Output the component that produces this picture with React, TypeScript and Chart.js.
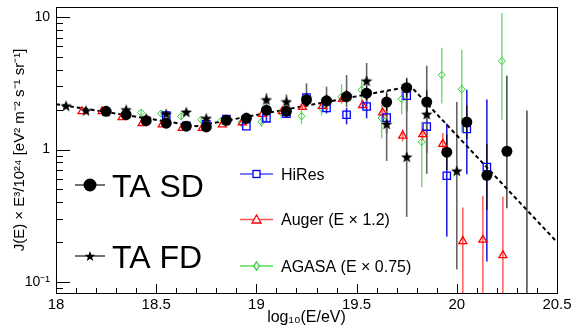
import React, { useEffect, useRef } from 'react';
import { Chart, registerables } from 'chart.js';

Chart.register(...registerables);

// ---------- data ----------
const sdX = [18.25, 18.35, 18.45, 18.55, 18.65, 18.75, 18.85, 18.95, 19.05, 19.15, 19.25, 19.35, 19.45, 19.55, 19.65, 19.75, 19.85, 19.95, 20.05, 20.15, 20.25, 20.35];
const sdY = [1.94, 1.83, 1.65, 1.58, 1.5, 1.48, 1.66, 1.72, 1.98, 1.94, 2.37, 2.33, 2.51, 2.66, 2.28, 2.93, 2.28, 0.955, 1.61, 0.638, 0.97, null];
const sdLo = [null, null, null, null, null, null, null, null, null, null, 2.2, 2.1, 2.25, 2.35, 1.95, 2.5, 1.85, 0.7, 1.2, 0.35, 0.36, 0.01];
const sdHi = [null, null, null, null, null, null, null, null, null, null, 2.6, 2.6, 2.8, 3.0, 2.65, 3.4, 2.8, 1.3, 2.15, 1.1, 3.6, 1.97];

const fdX = [18.05, 18.15, 18.25, 18.35, 18.45, 18.55, 18.65, 18.75, 18.85, 18.95, 19.05, 19.15, 19.25, 19.35, 19.45, 19.55, 19.65, 19.75, 19.85, 20.0];
const fdY = [2.14, 1.97, 1.95, 2.0, 1.72, 1.86, 1.92, 1.72, 1.68, 1.75, 2.38, 2.3, 2.45, 2.35, 2.55, 3.3, 1.56, 0.88, 1.85, 0.69];
const fdLo = [null, null, null, null, null, null, null, null, null, null, 2.1, 2.05, 2.1, 2.0, 2.1, 2.3, 0.82, 0.31, 0.656, 0.124];
const fdHi = [null, null, null, null, null, null, null, null, null, null, 2.66, 2.6, 3.16, 2.98, 3.65, 4.5, 2.77, 3.49, 4.29, 2.28];

const hiresX = [18.55, 18.65, 18.75, 18.85, 18.95, 19.05, 19.15, 19.25, 19.35, 19.45, 19.55, 19.65, 19.75, 19.85, 19.95, 20.05, 20.15];
const hiresY = [1.8, 1.51, 1.55, 1.7, 1.5, 1.72, 1.86, 2.47, 2.06, 1.83, 2.11, 1.74, 2.55, 1.49, 0.634, 1.43, 0.737];
const hiresLo = [null, null, null, null, null, 1.62, 1.76, 2.3, 1.87, 1.55, 1.72, 1.32, 1.94, 0.94, 0.22, 0.65, 0.143];
const hiresHi = [null, null, null, null, null, 1.82, 1.97, 2.65, 2.25, 2.07, 2.55, 2.3, 3.15, 2.3, 1.57, 2.83, 2.38];

const augerX = [18.13, 18.23, 18.33, 18.43, 18.53, 18.63, 18.73, 18.83, 18.93, 19.03, 19.13, 19.23, 19.33, 19.43, 19.53, 19.63, 19.73, 19.83, 19.93, 20.03, 20.13, 20.23];
const augerY = [1.94, 1.94, 1.75, 1.58, 1.54, 1.45, 1.45, 1.54, 1.6, 1.85, 1.94, 2.09, 2.13, 2.4, 2.16, 1.9, 1.27, 1.3, 1.1, 0.203, 0.208, 0.159];
const augerLo = [null, null, null, null, null, null, null, null, null, null, null, 2.0, 2.03, 2.28, 2.04, 1.75, 1.15, 1.17, 0.92, 0.01, 0.01, 0.01];
const augerHi = [null, null, null, null, null, null, null, null, null, null, null, 2.19, 2.24, 2.53, 2.29, 2.05, 1.42, 1.45, 1.33, 0.365, 0.447, 0.44];

const agasaX = [18.425, 18.525, 18.625, 18.725, 18.825, 18.925, 19.025, 19.125, 19.225, 19.325, 19.425, 19.525, 19.625, 19.725, 19.825, 19.925, 20.025, 20.225];
const agasaY = [1.9, 1.87, 1.78, 1.68, 1.65, 1.6, 1.62, 1.9, 1.78, 2.05, 2.5, 2.82, 1.73, 2.41, 1.14, 3.65, 2.85, 4.65];
const agasaLo = [1.8, 1.77, 1.68, 1.58, 1.54, 1.48, 1.48, 1.72, 1.55, 1.8, 2.2, 2.3, 1.21, 1.84, 0.52, 2.22, 1.35, 1.68];
const agasaHi = [2.0, 1.97, 1.88, 1.78, 1.76, 1.72, 1.76, 2.1, 2.0, 2.3, 3.1, 3.37, 2.18, 3.14, 1.63, 5.85, 5.65, 10.7];

const fitX = [18.0, 18.7, 19.77, 20.5];
const fitY = [2.2, 1.5, 3.0, 0.2];

const xTickLabels = ['18', '18.5', '19', '19.5', '20', '20.5'];
const yTickLabels: Record<string, string> = { '0.1': '10\u207B\u00B9', '1': '1', '10': '10' };

const FONT = '"Liberation Sans", Arial, Helvetica, sans-serif';

// ---------- markers ----------
function makeStar(size: number): HTMLCanvasElement {
  const c = document.createElement('canvas');
  c.width = size;
  c.height = size;
  const ctx = c.getContext('2d')!;
  drawStar(ctx, size / 2, size / 2 + size * 0.05, size / 2);
  return c;
}

function drawStar(ctx: CanvasRenderingContext2D, cx: number, cy: number, R: number) {
  const r = R * 0.42;
  ctx.beginPath();
  for (let i = 0; i < 10; i++) {
    const a = -Math.PI / 2 + (i * Math.PI) / 5;
    const rr = i % 2 === 0 ? R : r;
    ctx.lineTo(cx + rr * Math.cos(a), cy + rr * Math.sin(a));
  }
  ctx.closePath();
  ctx.fillStyle = '#000';
  ctx.fill();
}

function drawLegendMarker(ctx: CanvasRenderingContext2D, kind: string, x: number, y: number) {
  ctx.save();
  ctx.lineWidth = 1.3;
  if (kind === 'circle') {
    ctx.beginPath();
    ctx.arc(x, y, 6.5, 0, Math.PI * 2);
    ctx.fillStyle = '#000';
    ctx.fill();
  } else if (kind === 'star') {
    drawStar(ctx, x, y + 0.5, 5.5);
  } else if (kind === 'square') {
    ctx.fillStyle = '#fff';
    ctx.strokeStyle = '#0000ff';
    ctx.fillRect(x - 3.5, y - 3.5, 7, 7);
    ctx.strokeRect(x - 3.5, y - 3.5, 7, 7);
  } else if (kind === 'triangle') {
    ctx.fillStyle = '#fff';
    ctx.strokeStyle = '#ff0000';
    ctx.beginPath();
    ctx.moveTo(x, y - 4.5);
    ctx.lineTo(x + 4.5, y + 3.5);
    ctx.lineTo(x - 4.5, y + 3.5);
    ctx.closePath();
    ctx.fill();
    ctx.stroke();
  } else if (kind === 'diamond') {
    ctx.fillStyle = '#fff';
    ctx.strokeStyle = '#33cc33';
    ctx.beginPath();
    ctx.moveTo(x, y - 4);
    ctx.lineTo(x + 2.8, y);
    ctx.lineTo(x, y + 4);
    ctx.lineTo(x - 2.8, y);
    ctx.closePath();
    ctx.fill();
    ctx.stroke();
  }
  ctx.restore();
}

// ---------- plugins ----------
const errorBarPlugin = {
  id: 'errorBars',
  beforeDatasetsDraw(chart: any) {
    const { ctx, chartArea, scales } = chart;
    ctx.save();
    ctx.beginPath();
    ctx.rect(chartArea.left, chartArea.top, chartArea.right - chartArea.left, chartArea.bottom - chartArea.top);
    ctx.clip();
    chart.data.datasets.forEach((ds: any) => {
      if (!ds.errLo) return;
      ctx.strokeStyle = ds.errColor;
      ctx.lineWidth = ds.errWidth;
      ds.data.forEach((p: any, i: number) => {
        const lo = ds.errLo[i];
        const hi = ds.errHi[i];
        if (lo == null || hi == null) return;
        const x = scales.x.getPixelForValue(p.x);
        const y1 = scales.y.getPixelForValue(lo);
        const y2 = scales.y.getPixelForValue(hi);
        ctx.beginPath();
        ctx.moveTo(x, y1);
        ctx.lineTo(x, y2);
        ctx.stroke();
      });
    });
    ctx.restore();
  },
};

const framePlugin = {
  id: 'frameTicks',
  afterDraw(chart: any) {
    const { ctx, chartArea, scales } = chart;
    const { left, right, top, bottom } = chartArea;
    ctx.save();
    ctx.strokeStyle = '#000';
    ctx.lineWidth = 1;
    ctx.strokeRect(Math.round(left) + 0.5, Math.round(top) + 0.5, Math.round(right - left), Math.round(bottom - top));
    const yMin = scales.y.min;
    const yMax = scales.y.max;
    for (let d = -2; d <= 1; d++) {
      for (let m = 1; m <= 9; m++) {
        const v = m * Math.pow(10, d);
        if (v < yMin || v > yMax) continue;
        const y = Math.round(scales.y.getPixelForValue(v)) + 0.5;
        const len = m === 1 ? 14 : 7;
        ctx.beginPath();
        ctx.moveTo(left, y);
        ctx.lineTo(left + len, y);
        ctx.stroke();
      }
    }
    for (let k = 0; k <= 25; k++) {
      const v = 18 + k * 0.1;
      const x = Math.round(scales.x.getPixelForValue(v)) + 0.5;
      const len = k % 5 === 0 ? 9 : 5;
      ctx.beginPath();
      ctx.moveTo(x, bottom);
      ctx.lineTo(x, bottom - len);
      ctx.stroke();
    }
    ctx.restore();
  },
};

const legendPlugin = {
  id: 'customLegend',
  afterDraw(chart: any) {
    const ctx: CanvasRenderingContext2D = chart.ctx;
    ctx.save();
    const big = [
      { label: 'TA SD', kind: 'circle', y: 185, base: 197 },
      { label: 'TA FD', kind: 'star', y: 256, base: 268 },
    ];
    big.forEach((b) => {
      ctx.strokeStyle = '#444';
      ctx.lineWidth = 1.5;
      ctx.beginPath();
      ctx.moveTo(75, b.y);
      ctx.lineTo(105, b.y);
      ctx.stroke();
      drawLegendMarker(ctx, b.kind, 90, b.y);
      ctx.fillStyle = '#000';
      ctx.font = `32px ${FONT}`;
      ctx.textBaseline = 'alphabetic';
      ctx.textAlign = 'left';
      ctx.fillText(b.label, 112, b.base);
    });
    const small = [
      { label: 'HiRes', kind: 'square', color: '#4d4dff', y: 174, base: 180 },
      { label: 'Auger (E \u00D7 1.2)', kind: 'triangle', color: '#ff5555', y: 219.5, base: 225 },
      { label: 'AGASA (E \u00D7 0.75)', kind: 'diamond', color: '#55dd55', y: 266, base: 271.5 },
    ];
    small.forEach((s) => {
      ctx.strokeStyle = s.color;
      ctx.lineWidth = 1.3;
      ctx.beginPath();
      ctx.moveTo(240, s.y);
      ctx.lineTo(273, s.y);
      ctx.stroke();
      drawLegendMarker(ctx, s.kind, 256.5, s.y);
      ctx.fillStyle = '#000';
      ctx.font = `16px ${FONT}`;
      ctx.textBaseline = 'alphabetic';
      ctx.textAlign = 'left';
      ctx.fillText(s.label, 281, s.base);
    });
    ctx.restore();
  },
};

function pts(xs: number[], ys: (number | null)[]) {
  return xs.map((x, i) => ({ x, y: ys[i] }));
}

function zeroPad(s: any) {
  s.paddingTop = 0;
  s.paddingBottom = 0;
  s.paddingLeft = 0;
  s.paddingRight = 0;
}

export default function App() {
  const ref = useRef<HTMLCanvasElement>(null);

  useEffect(() => {
    const star = makeStar(12);
    Chart.defaults.font.family = FONT;
    Chart.defaults.color = '#000';
    const chart = new Chart(ref.current!, {
      type: 'scatter',
      data: {
        datasets: [
          {
            label: 'fit',
            data: pts(fitX, fitY),
            showLine: true,
            borderColor: '#000',
            borderWidth: 2,
            borderDash: [4, 3],
            pointRadius: 0,
            order: 10,
          } as any,
          {
            label: 'AGASA',
            data: pts(agasaX, agasaY),
            pointStyle: 'rectRot',
            pointRadius: 3.6,
            backgroundColor: 'rgba(255,255,255,0)',
            borderColor: '#33cc33',
            borderWidth: 1,
            errLo: agasaLo,
            errHi: agasaHi,
            errColor: '#6ddc6d',
            errWidth: 1.4,
            order: 5,
          } as any,
          {
            label: 'Auger',
            data: pts(augerX, augerY),
            pointStyle: 'triangle',
            pointRadius: 4.6,
            backgroundColor: 'rgba(255,255,255,0)',
            borderColor: '#ff0000',
            borderWidth: 1.3,
            errLo: augerLo,
            errHi: augerHi,
            errColor: '#ff6666',
            errWidth: 1.6,
            order: 4,
          } as any,
          {
            label: 'HiRes',
            data: pts(hiresX, hiresY),
            pointStyle: 'rect',
            pointRadius: 5.2,
            backgroundColor: 'rgba(255,255,255,0)',
            borderColor: '#0000ff',
            borderWidth: 1.3,
            errLo: hiresLo,
            errHi: hiresHi,
            errColor: '#2222dd',
            errWidth: 1.6,
            order: 3,
          } as any,
          {
            label: 'TA FD',
            data: pts(fdX, fdY),
            pointStyle: star,
            pointRadius: 6,
            errLo: fdLo,
            errHi: fdHi,
            errColor: '#666666',
            errWidth: 1.6,
            order: 2,
          } as any,
          {
            label: 'TA SD',
            data: pts(sdX, sdY),
            pointStyle: 'circle',
            pointRadius: 5.5,
            backgroundColor: '#000',
            borderColor: '#000',
            borderWidth: 0,
            errLo: sdLo,
            errHi: sdHi,
            errColor: '#000',
            errWidth: 1.1,
            order: 1,
          } as any,
        ],
      },
      options: {
        animation: false,
        responsive: false,
        devicePixelRatio: 1,
        layout: { padding: { left: 0, right: 18, top: 5, bottom: 0 } },
        plugins: {
          legend: { display: false },
          tooltip: { enabled: false },
        },
        scales: {
          x: {
            type: 'linear',
            min: 18,
            max: 20.5,
            grid: { display: false, drawTicks: false },
            border: { display: false },
            ticks: {
              stepSize: 0.5,
              autoSkip: false,
              maxRotation: 0,
              padding: 3,
              font: { size: 15 },
              color: '#000',
              callback: (v: any) => {
                const idx = Math.round((Number(v) - 18) / 0.5);
                return xTickLabels[idx] ?? '';
              },
            },
            title: {
              display: true,
              text: 'log\u2081\u2080(E/eV)',
              font: { size: 16 },
              color: '#000',
              padding: { top: 0, bottom: 2 },
            },
            afterFit: (s: any) => {
              s.height = 36;
              zeroPad(s);
            },
          },
          y: {
            type: 'logarithmic',
            min: 0.0826,
            max: 11.9,
            grid: { display: false, drawTicks: false },
            border: { display: false },
            ticks: {
              autoSkip: false,
              padding: 6,
              font: { size: 14 },
              color: '#000',
              callback: (v: any) => {
                const n = Number(v);
                const l = Math.log10(n);
                if (Math.abs(l - Math.round(l)) > 1e-6) return '';
                const key = String(Math.pow(10, Math.round(l)));
                return yTickLabels[key] ?? '';
              },
            },
            title: {
              display: true,
              text: 'J(E) \u00D7 E\u00B3/10\u00B2\u2074 [eV\u00B2 m\u207B\u00B2 s\u207B\u00B9 sr\u207B\u00B9]',
              font: { size: 15 },
              color: '#000',
              padding: { top: 11, bottom: 0 },
            },
            afterFit: (s: any) => {
              s.width = 56;
              zeroPad(s);
            },
          },
        },
      } as any,
      plugins: [errorBarPlugin, framePlugin, legendPlugin],
    });
    return () => chart.destroy();
  }, []);

  return (
    <div style={{ position: 'absolute', left: 0, top: 0, width: 575, height: 329, background: '#fff' }}>
      <canvas ref={ref} width={575} height={329} style={{ display: 'block', width: 575, height: 329 }} />
    </div>
  );
}
